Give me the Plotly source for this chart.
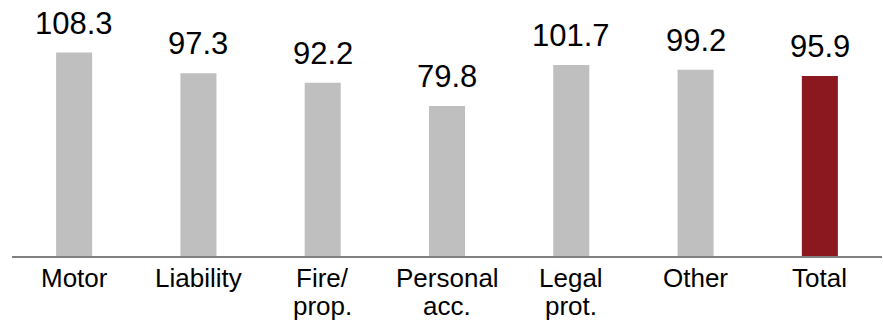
import plotly.graph_objects as go

categories = ["Motor", "Liability", "Fire/ prop.", "Personal acc.", "Legal prot.", "Other", "Total"]
label_line1 = ["Motor", "Liability", "Fire/", "Personal", "Legal", "Other", "Total"]
label_line2 = ["", "", "prop.", "acc.", "prot.", "", ""]
values = [108.3, 97.3, 92.2, 79.8, 101.7, 99.2, 95.9]
value_labels = ["108.3", "97.3", "92.2", "79.8", "101.7", "99.2", "95.9"]
bar_colors = ["#bfbfbf"] * 6 + ["#8b181e"]

FONT = "Liberation Sans, Arial, sans-serif"

fig = go.Figure()
fig.add_trace(go.Bar(
    x=categories, y=values,
    marker=dict(color=bar_colors, line=dict(width=0)),
    width=0.29,
    hoverinfo="skip",
))

for c, v, t in zip(categories, values, value_labels):
    fig.add_annotation(
        x=c, y=v, text=t, showarrow=False,
        yanchor="bottom", xanchor="center", yshift=10,
        font=dict(family=FONT, size=31, color="#000000"),
    )

for c, l1, l2 in zip(categories, label_line1, label_line2):
    fig.add_annotation(
        x=c, y=0, text=l1, showarrow=False,
        yanchor="top", xanchor="center", yshift=-5,
        font=dict(family=FONT, size=26, color="#000000"),
    )
    if l2:
        fig.add_annotation(
            x=c, y=0, text=l2, showarrow=False,
            yanchor="top", xanchor="center", yshift=-33,
            font=dict(family=FONT, size=26, color="#000000"),
        )

fig.update_layout(
    width=883, height=323,
    margin=dict(l=12, r=1, t=0, b=67),
    plot_bgcolor="white", paper_bgcolor="white",
    showlegend=False,
    font=dict(family=FONT, color="#000000"),
    xaxis=dict(
        showline=True, linecolor="#808080", linewidth=1.5,
        showgrid=False, zeroline=False, ticks="",
        showticklabels=False,
        automargin=False,
        fixedrange=True,
    ),
    yaxis=dict(
        range=[0, 136.3], visible=False, showgrid=False, zeroline=False,
        automargin=False,
        fixedrange=True,
    ),
)

fig.write_html("out.html", config={"displayModeBar": False})
